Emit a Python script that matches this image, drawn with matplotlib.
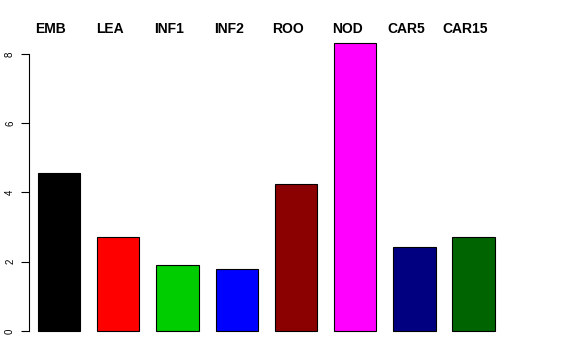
import matplotlib
matplotlib.use("Agg")
import matplotlib.pyplot as plt
import numpy as np

# data
labels = ["EMB", "LEA", "INF1", "INF2", "ROO", "NOD", "CAR5", "CAR15"]
values = [4.55, 2.72, 1.90, 1.80, 4.24, 8.32, 2.42, 2.71]
colors = ["#000000", "#FF0000", "#00CD00", "#0000FF",
          "#8B0000", "#FF00FF", "#000080", "#006400"]
yticks = [0, 2, 4, 6, 8]

W, H = 576, 360
fig = plt.figure(figsize=(W / 100, H / 100), dpi=100)
fig.patch.set_facecolor("white")

# plot region in pixels
left_px, right_px = 29, 520
top_px, bot_px = 31, 342
ax = fig.add_axes([left_px / W, 1 - bot_px / H,
                   (right_px - left_px) / W, (bot_px - top_px) / H])

# R-style barplot positions: width 1, space 0.4
space = 0.4
x = space + (1 + space) * np.arange(len(values)) + 0.5
ax.bar(x, values, width=1.0, color=colors, edgecolor="black", linewidth=0.8)

px_per_unit_y = 34.625
px_per_unit_x = 42.3
zero_px = 331
ax.set_ylim(-(bot_px - zero_px) / px_per_unit_y, (zero_px - top_px) / px_per_unit_y)
x0 = 0.19
ax.set_xlim(x0, x0 + (right_px - left_px) / px_per_unit_x)

for s in ["top", "right", "bottom"]:
    ax.spines[s].set_visible(False)
ax.spines["left"].set_bounds(0, 8)
ax.spines["left"].set_linewidth(0.8)
ax.set_xticks([])
ax.set_yticks(yticks)
ax.set_yticklabels([str(t) for t in yticks], rotation=90,
                   fontsize=7, family="Liberation Sans", va="center")
ax.tick_params(axis="y", length=6, width=0.8, pad=4)

# group names above the bars
for xi, lab in zip(x, labels):
    ax.text(xi - 0.19, 8.72, lab, ha="center", va="center",
            fontsize=10, fontweight="bold", family="Liberation Sans",
            clip_on=False)

fig.savefig("out.png", dpi=100)
